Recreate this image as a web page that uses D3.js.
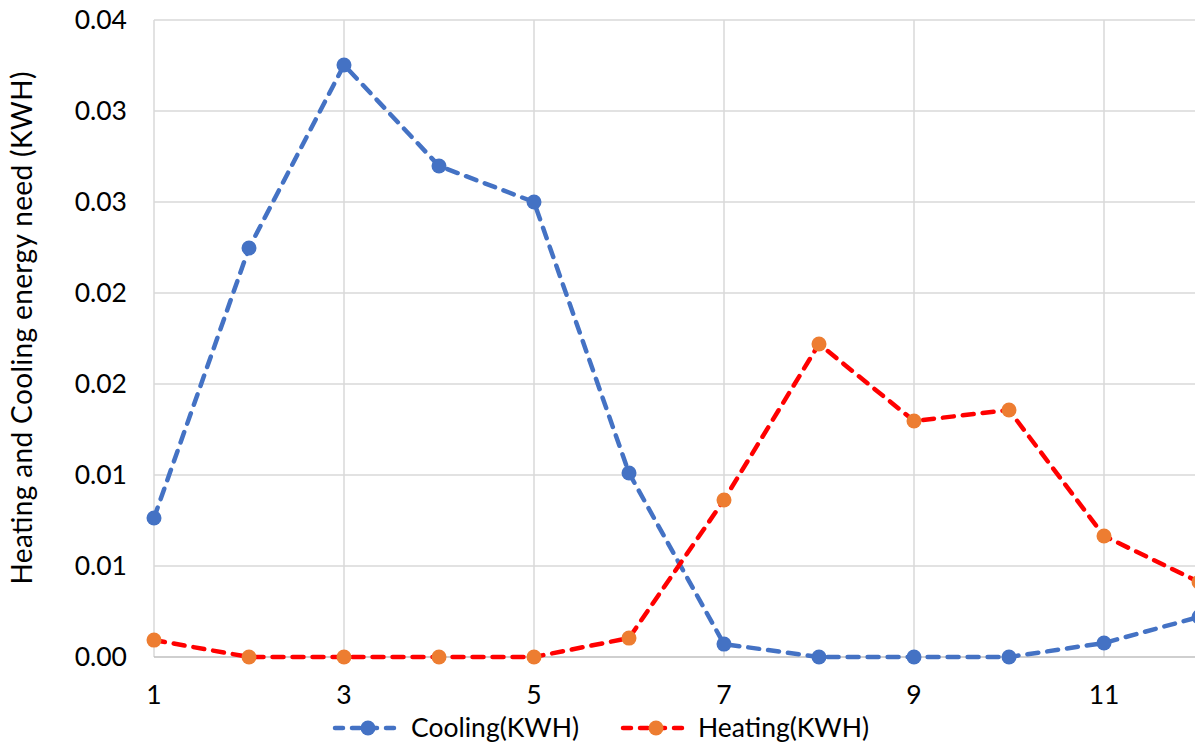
<!DOCTYPE html>
<html><head><meta charset="utf-8">
<script src="https://cdn.jsdelivr.net/npm/d3@7"></script>
<style>body{margin:0;background:#fff;}svg{display:block;font-family:Lato,"Open Sans",sans-serif;}</style>
</head><body>
<svg id="c" width="1195" height="747"></svg>
<script>
const months = [1,2,3,4,5,6,7,8,9,10,11,12];
const cooling = [0.00764,0.02247,0.03253,0.02698,0.0250,0.01011,0.00071,0,0,0,0.00077,0.0022];
const heating = [0.00093,0,0,0,0,0.00104,0.00863,0.0172,0.01297,0.01357,0.00665,0.00412];
const xTicks = [1,3,5,7,9,11];
const yTickValues = [0,0.005,0.01,0.015,0.02,0.025,0.03,0.035];
const yTickLabels = ["0.00","0.01","0.01","0.02","0.02","0.03","0.03","0.04"];
const seriesNames = ["Cooling(KWH)","Heating(KWH)"];
const yTitle = "Heating and Cooling energy need (KWH)";

const svg = d3.select("#c");
const x = d3.scaleLinear().domain([1,12]).range([154,1199]);
const y = d3.scaleLinear().domain([0,0.035]).range([657,20]);
const FS = 26.5;

// horizontal gridlines
svg.append("g").selectAll("line").data(yTickValues.slice(1)).join("line")
  .attr("x1",x(1)).attr("x2",1195).attr("y1",d=>y(d)).attr("y2",d=>y(d))
  .attr("stroke","#d9d9d9").attr("stroke-width",1.5);
// vertical gridlines
svg.append("g").selectAll("line").data(xTicks).join("line")
  .attr("x1",d=>x(d)).attr("x2",d=>x(d)).attr("y1",y(0.035)).attr("y2",y(0))
  .attr("stroke","#d9d9d9").attr("stroke-width",1.5);
// x axis line
svg.append("line").attr("x1",x(1)).attr("x2",1195).attr("y1",y(0)).attr("y2",y(0))
  .attr("stroke","#bfbfbf").attr("stroke-width",1.5);

// y tick labels
svg.append("g").selectAll("text").data(yTickValues).join("text")
  .attr("x",127).attr("y",d=>y(d)).attr("dy","0.35em").attr("text-anchor","end")
  .attr("font-size",FS).attr("fill","#000").text((d,i)=>yTickLabels[i]);
// x tick labels
svg.append("g").selectAll("text").data(xTicks).join("text")
  .attr("x",d=>x(d)).attr("y",695).attr("dy","0.35em").attr("text-anchor","middle")
  .attr("font-size",FS).attr("fill","#000").text(d=>d);
// y title
svg.append("text").attr("transform","translate(22,328) rotate(-90)")
  .attr("text-anchor","middle").attr("dy","0.35em").attr("font-size",28)
  .attr("textLength",513).attr("lengthAdjust","spacing")
  .attr("fill","#000").text(yTitle);

const series = [
  {vals:cooling, line:"#4472c4", mark:"#4472c4"},
  {vals:heating, line:"#ff0000", mark:"#ed7d31"}
];
const line = d3.line().x((d,i)=>x(months[i])).y(d=>y(d));
const plot = svg.append("g");
series.forEach(s=>{
  plot.append("path").datum(s.vals).attr("d",line).attr("fill","none")
    .attr("stroke",s.line).attr("stroke-width",4.5).attr("stroke-dasharray","11 9")
    .attr("stroke-linecap","round");
});
series.forEach(s=>{
  plot.append("g").selectAll("circle").data(s.vals).join("circle")
    .attr("cx",(d,i)=>x(months[i])).attr("cy",d=>y(d)).attr("r",7.5).attr("fill",s.mark);
});

// legend
const leg = [{x0:335, tx:411},{x0:623, tx:698}];
leg.forEach((l,i)=>{
  const s = series[i];
  const g = svg.append("g");
  g.append("line").attr("x1",l.x0).attr("x2",l.x0+68).attr("y1",728).attr("y2",728)
    .attr("stroke",s.line).attr("stroke-width",4.5).attr("stroke-dasharray","8 9")
    .attr("stroke-linecap","round");
  g.append("circle").attr("cx",l.x0+33).attr("cy",728).attr("r",7.5).attr("fill",s.mark);
  g.append("text").attr("x",l.tx).attr("y",728).attr("dy","0.35em").attr("font-size",FS).attr("fill","#000").text(seriesNames[i]);
});
</script>
</body></html>
